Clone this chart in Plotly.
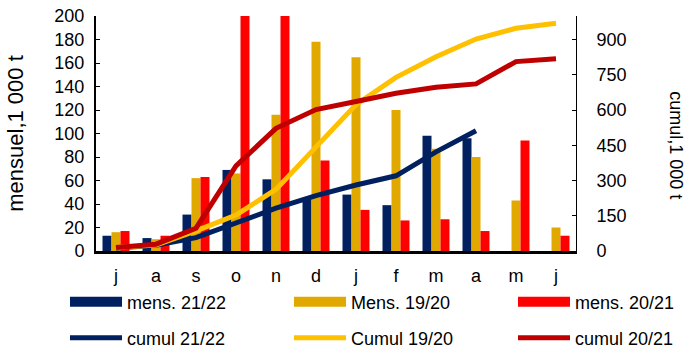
import plotly.graph_objects as go

months = ["j", "a", "s", "o", "n", "d", "j", "f", "m", "a", "m", "j"]
x_idx = list(range(len(months)))

mens_2122 = [13, 11, 31, 69, 61, 45, 48, 39, 98, 96, None, None]
mens_1920 = [16, 10, 62, 66, 116, 178, 165, 120, 87, 80, 43, 20]
mens_2021 = [17, 13, 63, 260, 230, 77, 35, 26, 27, 17, 94, 13]

cumul_2122 = [13, 24, 57, 120, 182, 236, 281, 320, 422, 512, None, None]
cumul_1920 = [15, 25, 86, 153, 262, 445, 623, 739, 827, 902, 948, 969]
cumul_2021 = [15, 29, 97, 362, 522, 602, 636, 671, 697, 711, 806, 818]

left_ticks = list(range(0, 201, 20))
right_ticks = list(range(0, 901, 150))

C_NAVY = "#002060"
C_GOLD = "#E1A800"
C_RED = "#FF0000"
C_LGOLD = "#FFC000"
C_DRED = "#C00000"
FONT = "Liberation Sans, Arial, sans-serif"
FS = 18

W, H = 689, 349
col_x = [65, 289, 513]
row_y = [302, 338]

fig = go.Figure()
bar_series = [("mens. 21/22", mens_2122, C_NAVY),
              ("Mens. 19/20", mens_1920, C_GOLD),
              ("mens. 20/21", mens_2021, C_RED)]
line_series = [("cumul 21/22", cumul_2122, C_NAVY),
               ("Cumul 19/20", cumul_1920, C_LGOLD),
               ("cumul 20/21", cumul_2021, C_DRED)]

legend_layout = {}
k = 0
for i, (name, vals, col) in enumerate(bar_series):
    fig.add_trace(go.Bar(x=x_idx, y=vals, name=name, marker=dict(color=col, line=dict(width=0)),
                         showlegend=False, legendgroup=name))
for i, (name, vals, col) in enumerate(bar_series):
    k += 1
    lid = "legend" if k == 1 else f"legend{k}"
    # legend swatch (wide rectangle like the reference)
    fig.add_trace(go.Scatter(x=[None], y=[None], mode="lines", name=name, legendgroup=name,
                             line=dict(color=col, width=12), legend=lid, hoverinfo="skip"))
    legend_layout[lid] = (col_x[i], row_y[0])

for i, (name, vals, col) in enumerate(line_series):
    k += 1
    lid = f"legend{k}"
    fig.add_trace(go.Scatter(x=x_idx, y=vals, name=name, mode="lines", yaxis="y2",
                             line=dict(color=col, width=5), legend=lid))
    legend_layout[lid] = (col_x[i], row_y[1])

leg_common = dict(orientation="h", xref="container", yref="container", xanchor="left",
                  yanchor="middle", itemwidth=52,
                  font=dict(family=FONT, size=FS, color="black"), bgcolor="rgba(0,0,0,0)",
                  itemclick=False, itemdoubleclick=False)

fig.update_layout(
    width=W, height=H,
    margin=dict(l=96, r=113, t=16, b=98, autoexpand=False),
    paper_bgcolor="white", plot_bgcolor="white",
    font=dict(family=FONT, size=FS, color="black"),
    barmode="group", bargap=0.325, bargroupgap=0,
    xaxis=dict(range=[-0.5, 11.5], tickvals=x_idx, ticktext=months, showgrid=False,
               zeroline=False, showline=True, linecolor="black", linewidth=3, ticks="",
               ticklabelstandoff=6, fixedrange=True),
    yaxis=dict(range=[0, 200], tickvals=left_ticks, showgrid=False, zeroline=False,
               showline=True, linecolor="black", linewidth=2, ticks="inside", ticklen=4,
               tickcolor="black", ticklabelstandoff=6,
               title=dict(text="mensuel,1 000 t", standoff=25), fixedrange=True),
    yaxis2=dict(range=[0, 1000], tickvals=right_ticks, overlaying="y", side="right",
                showgrid=False, zeroline=False, showline=True, linecolor="black", linewidth=1,
                ticks="inside", ticklen=4, tickcolor="black", ticklabelstandoff=16,
                fixedrange=True),
    annotations=[dict(text="cumul,1 000 t", textangle=90, xref="paper", yref="paper",
                      x=1, xshift=100, xanchor="center", y=0.45, showarrow=False,
                      font=dict(family=FONT, size=FS, color="black"))],
)
fig.update_layout({lid: dict(x=px / W, y=1 - py / H, **leg_common)
                   for lid, (px, py) in legend_layout.items()})

fig.write_html("out.html")
